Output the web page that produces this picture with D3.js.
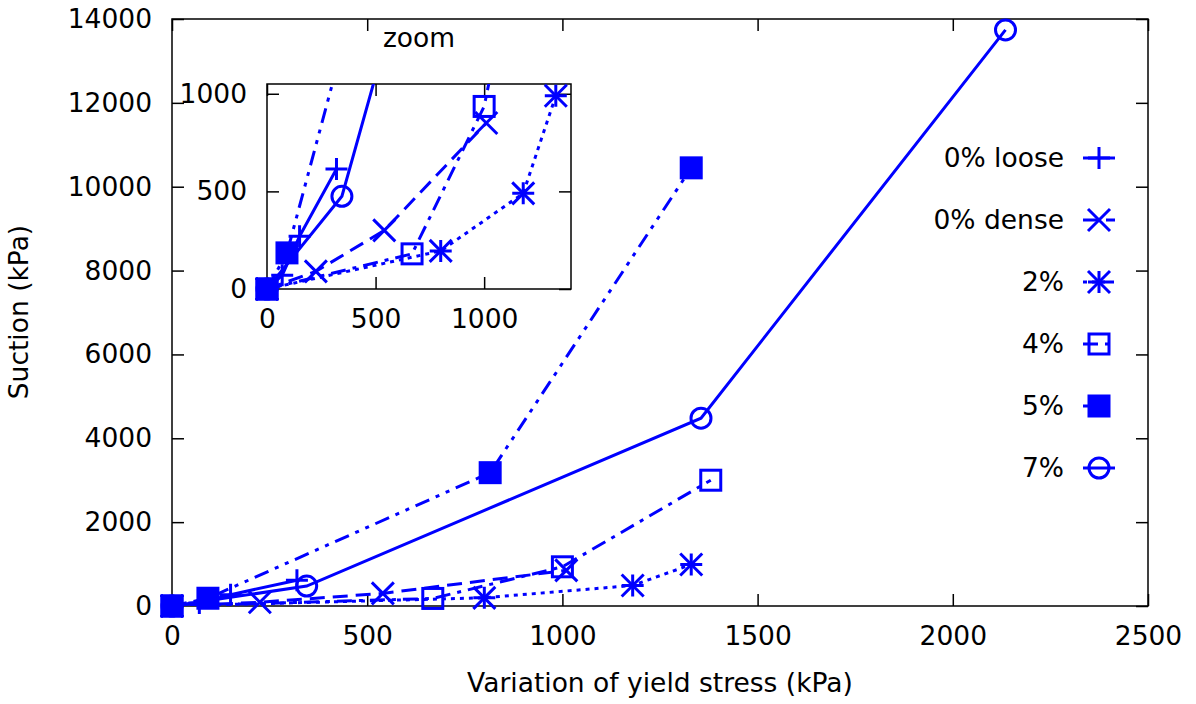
<!DOCTYPE html>
<html>
<head>
<meta charset="utf-8">
<script src="https://cdn.jsdelivr.net/npm/d3@7"></script>
<style>
  body { margin: 0; background: #fff; }
  text { font-family: "DejaVu Sans", sans-serif; fill: #000; }
</style>
</head>
<body>
<script>
// series (x = variation of yield stress, y = suction, kPa)
var seriesNames = ['0% loose', '0% dense', '2%', '4%', '5%', '7%'];
var loose0X = [0, 70, 150, 320];
var loose0Y = [0, 70, 270, 615];
var dense0X = [0, 225, 540, 1010];
var dense0Y = [0, 90, 300, 850];
var pct2X = [0, 800, 1180, 1330];
var pct2Y = [0, 195, 490, 990];
var pct4X = [0, 668, 1000, 1380];
var pct4Y = [0, 180, 935, 3000];
var pct5X = [0, 92, 815, 1330];
var pct5Y = [0, 185, 3180, 10450];
var pct7X = [0, 345, 1355, 2135];
var pct7Y = [0, 475, 4480, 13740];

var mainXTicks = [0, 500, 1000, 1500, 2000, 2500];
var mainYTicks = [0, 2000, 4000, 6000, 8000, 10000, 12000, 14000];
var zoomXTicks = [0, 500, 1000];
var zoomYTicks = [0, 500, 1000];

var blue = '#0000ff';
var W = 1196, H = 704;
var fontSize = 26.5;
var tick = 12;

var series = [
  { name: seriesNames[0], xs: loose0X, ys: loose0Y, dash: null, marker: 'plus' },
  { name: seriesNames[1], xs: dense0X, ys: dense0Y, dash: '15,8', marker: 'cross' },
  { name: seriesNames[2], xs: pct2X, ys: pct2Y, dash: '4,5', marker: 'star' },
  { name: seriesNames[3], xs: pct4X, ys: pct4Y, dash: '15,7,4,7', marker: 'box' },
  { name: seriesNames[4], xs: pct5X, ys: pct5Y, dash: '15,7,4,7,4,7', marker: 'boxfill' },
  { name: seriesNames[5], xs: pct7X, ys: pct7Y, dash: null, marker: 'circle' }
];

var svg = d3.select('body').append('svg')
  .attr('width', W)
  .attr('height', H);

// marker glyphs, gnuplot style
var drawMarker = function(g, type, cx, cy) {
  var s = 11;
  if (type == 'plus' || type == 'star') {
    g.append('path').attr('d', 'M' + (cx - s) + ',' + cy + 'H' + (cx + s) + 'M' + cx + ',' + (cy - s) + 'V' + (cy + s))
      .attr('stroke', blue).attr('stroke-width', 3).attr('fill', 'none');
  }
  if (type == 'cross' || type == 'star') {
    g.append('path').attr('d', 'M' + (cx - s) + ',' + (cy - s) + 'L' + (cx + s) + ',' + (cy + s) +
        'M' + (cx - s) + ',' + (cy + s) + 'L' + (cx + s) + ',' + (cy - s))
      .attr('stroke', blue).attr('stroke-width', 3).attr('fill', 'none');
  }
  if (type == 'box') {
    g.append('rect').attr('x', cx - 10).attr('y', cy - 10).attr('width', 20).attr('height', 20)
      .attr('stroke', blue).attr('stroke-width', 3).attr('fill', 'none');
  }
  if (type == 'boxfill') {
    g.append('rect').attr('x', cx - 11.5).attr('y', cy - 11.5).attr('width', 23).attr('height', 23)
      .attr('fill', blue);
  }
  if (type == 'circle') {
    g.append('circle').attr('cx', cx).attr('cy', cy).attr('r', 10)
      .attr('stroke', blue).attr('stroke-width', 3).attr('fill', 'none');
  }
};

var drawPanel = function(box, xDomain, yDomain, xTicks, yTicks, clipId) {
  var x = d3.scaleLinear().domain(xDomain).range([box.left, box.right]);
  var y = d3.scaleLinear().domain(yDomain).range([box.bottom, box.top]);
  var g = svg.append('g');
  var fmt = d3.format('d');

  var styleAxis = function(a) {
    a.select('.domain').remove();
    a.selectAll('line').attr('stroke', '#000').attr('stroke-width', 1.5);
    a.selectAll('text').attr('font-size', fontSize).style('font-family', '"DejaVu Sans", sans-serif');
  };

  g.append('g').attr('transform', 'translate(0,' + box.bottom + ')')
    .call(d3.axisBottom(x).tickValues(xTicks).tickFormat(fmt).tickSizeInner(-tick).tickSizeOuter(0).tickPadding(20))
    .call(styleAxis);
  g.append('g').attr('transform', 'translate(0,' + box.top + ')')
    .call(d3.axisTop(x).tickValues(xTicks).tickFormat('').tickSizeInner(-tick).tickSizeOuter(0))
    .call(styleAxis);
  g.append('g').attr('transform', 'translate(' + box.left + ',0)')
    .call(d3.axisLeft(y).tickValues(yTicks).tickFormat(fmt).tickSizeInner(-tick).tickSizeOuter(0).tickPadding(20))
    .call(styleAxis);
  g.append('g').attr('transform', 'translate(' + box.right + ',0)')
    .call(d3.axisRight(y).tickValues(yTicks).tickFormat('').tickSizeInner(-tick).tickSizeOuter(0))
    .call(styleAxis);

  g.append('rect')
    .attr('x', box.left).attr('y', box.top)
    .attr('width', box.right - box.left).attr('height', box.bottom - box.top)
    .attr('fill', 'none').attr('stroke', '#000').attr('stroke-width', 1.5);

  svg.append('clipPath').attr('id', clipId).append('rect')
    .attr('x', box.left).attr('y', box.top)
    .attr('width', box.right - box.left).attr('height', box.bottom - box.top);

  var line = d3.line().x(function(d) { return x(d[0]); }).y(function(d) { return y(d[1]); });

  series.forEach(function(s) {
    var pts = s.xs.map(function(v, i) { return [v, s.ys[i]]; });
    g.append('path')
      .attr('d', line(pts))
      .attr('clip-path', 'url(#' + clipId + ')')
      .attr('fill', 'none')
      .attr('stroke', blue)
      .attr('stroke-width', 3)
      .attr('stroke-dasharray', s.dash);
    pts.forEach(function(p) {
      if (p[0] <= xDomain[1] && p[1] <= yDomain[1]) {
        drawMarker(g, s.marker, x(p[0]), y(p[1]));
      }
    });
  });
  return g;
};

// main plot
drawPanel({ left: 172, right: 1148, top: 19, bottom: 606 },
  [0, 2500], [0, 14000], mainXTicks, mainYTicks, 'clipMain');

// axis titles
svg.append('text')
  .attr('x', 660).attr('y', 692)
  .attr('text-anchor', 'middle')
  .attr('font-size', fontSize)
  .text('Variation of yield stress (kPa)');
svg.append('text')
  .attr('transform', 'translate(28,312) rotate(-90)')
  .attr('text-anchor', 'middle')
  .attr('font-size', fontSize)
  .text('Suction (kPa)');

// legend
var legend = svg.append('g');
series.forEach(function(s, i) {
  var ly = 158 + i * 62;
  legend.append('text')
    .attr('x', 1064).attr('y', ly)
    .attr('dy', '0.35em')
    .attr('text-anchor', 'end')
    .attr('font-size', fontSize)
    .text(s.name);
  legend.append('line')
    .attr('x1', 1083).attr('x2', 1115)
    .attr('y1', ly).attr('y2', ly)
    .attr('stroke', blue).attr('stroke-width', 3)
    .attr('stroke-dasharray', s.dash);
  drawMarker(legend, s.marker, 1099, ly);
});

// inset zoom
drawPanel({ left: 267, right: 571, top: 84, bottom: 289 },
  [0, 1400], [0, 1050], zoomXTicks, zoomYTicks, 'clipZoom');

svg.append('text')
  .attr('x', 419).attr('y', 47)
  .attr('text-anchor', 'middle')
  .attr('font-size', fontSize)
  .text('zoom');
</script>
</body>
</html>
